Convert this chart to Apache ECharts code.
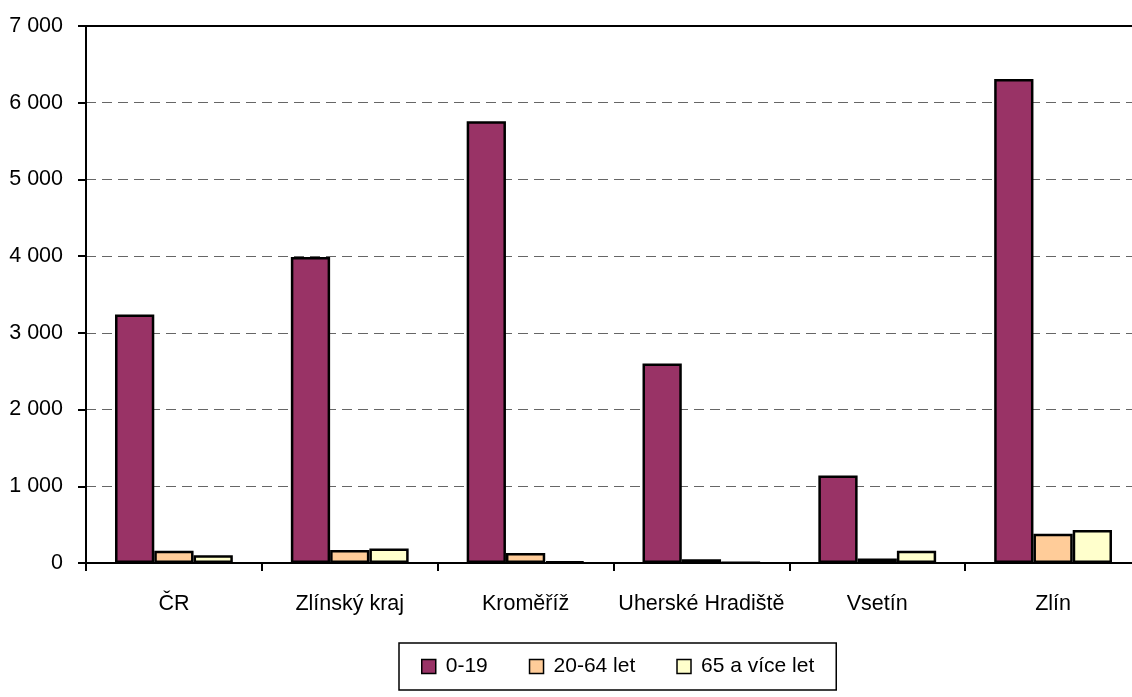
<!DOCTYPE html>
<html>
<head>
<meta charset="utf-8">
<script src="https://cdn.jsdelivr.net/npm/echarts@6/dist/echarts.min.js"></script>
<style>html,body{margin:0;padding:0;background:#fff;overflow:hidden;width:1132px;height:697px}#c{width:1141px;height:697px}</style>
</head>
<body>
<div id="c"></div>
<script>
const categories = ['ČR', 'Zlínský kraj', 'Kroměříž', 'Uherské Hradiště', 'Vsetín', 'Zlín'];
const seriesNames = ['0-19', '20-64 let', '65 a více let'];
const age0_19 = [3240, 3990, 5760, 2600, 1140, 6310];
const age20_64 = [160, 170, 130, 50, 60, 380];
const age65plus = [100, 190, 20, 5, 160, 430];
const colors = ['#993366', '#FFCC99', '#FFFFCC'];

const font = 'Liberation Sans, Arial, sans-serif';
const chart = echarts.init(document.getElementById('c'));
const mk = (name, data, color) => ({
  name, type: 'bar', data, barGap: '0%', barCategoryGap: '33%',
  itemStyle: { color, borderColor: '#000', borderWidth: 2.5 }
});
chart.setOption({
  animation: false,
  grid: { left: 86, right: 0, top: 26, bottom: 134 },
  legend: {
    data: seriesNames, left: 399, top: 643, orient: 'horizontal',
    padding: [13, 22, 13, 22], itemGap: 41, itemWidth: 14, itemHeight: 14,
    borderColor: '#000', borderWidth: 1.5, icon: 'rect',
    itemStyle: { borderColor: '#000', borderWidth: 1.5 },
    textStyle: { fontFamily: font, fontSize: 21, color: '#000', padding: [0, 0, 0, 5] }
  },
  xAxis: [{
    type: 'category', data: categories,
    axisLine: { lineStyle: { color: '#000', width: 2 } },
    axisTick: { show: true, length: 8, lineStyle: { color: '#000', width: 2 } },
    axisLabel: { fontFamily: font, fontSize: 21.5, color: '#000', margin: 30, interval: 0 }
  }, {
    type: 'category', data: categories, position: 'top',
    axisLine: { show: true, lineStyle: { color: '#000', width: 2 } },
    axisTick: { show: false }, axisLabel: { show: false }
  }],
  yAxis: {
    type: 'value', min: 0, max: 7000, interval: 1000,
    axisLine: { show: true, lineStyle: { color: '#000', width: 2 } },
    axisTick: { show: true, length: 8, lineStyle: { color: '#000', width: 2 } },
    axisLabel: {
      fontFamily: font, fontSize: 21.5, color: '#000', margin: 23,
      formatter: v => String(v).replace(/\B(?=(\d{3})+(?!\d))/g, ' ')
    },
    splitLine: { show: true, lineStyle: { color: '#666', width: 1, type: [10, 6] } }
  },
  series: [
    mk(seriesNames[0], age0_19, colors[0]),
    mk(seriesNames[1], age20_64, colors[1]),
    mk(seriesNames[2], age65plus, colors[2])
  ]
});
</script>
</body>
</html>
